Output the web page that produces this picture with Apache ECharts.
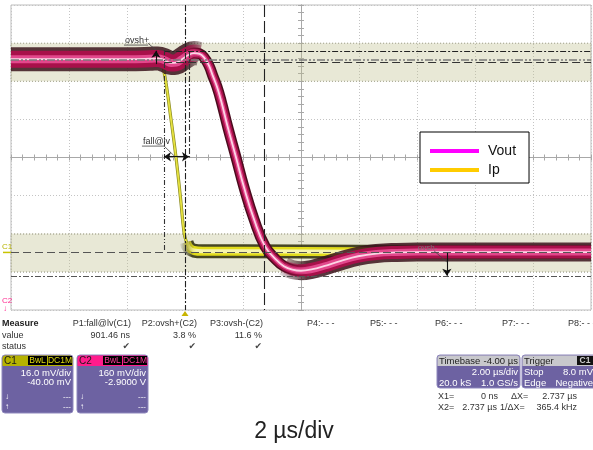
<!DOCTYPE html>
<html><head><meta charset="utf-8">
<script src="https://cdn.jsdelivr.net/npm/echarts@6/dist/echarts.min.js"></script>
<style>html,body{margin:0;padding:0;background:#fff}#c{width:593px;height:450px}</style>
</head><body><div id="c"></div>
<script>
// ---------- data (time in µs from trigger, amplitude in divisions) ----------
const voutT = [-6, -4, -2, -1.2, -0.93, -0.7, -0.48, -0.3, -0.14, 0.1, 0.31, 0.5, 0.66, 0.82, 0.97, 1.1, 1.24, 1.48, 1.76, 2.03, 2.38, 2.76, 3.14, 3.41, 3.7, 4.0, 4.4, 4.79, 5.38, 5.97, 6.6, 7.3, 8, 10, 12, 14];
const voutV = [2.58, 2.58, 2.58, 2.59, 2.6, 2.55, 2.48, 2.49, 2.56, 2.68, 2.74, 2.72, 2.62, 2.42, 2.12, 1.86, 1.50, 0.78, 0.0, -0.77, -1.62, -2.33, -2.68, -2.85, -2.94, -2.97, -2.93, -2.85, -2.71, -2.59, -2.52, -2.49, -2.48, -2.48, -2.48, -2.48];
const ipT = [-6, -2, -0.85, -0.72, -0.5, -0.31, -0.15, -0.03, 0.05, 0.14, 0.3, 0.6, 2, 6, 10, 14];
const ipV = [2.56, 2.56, 2.52, 2.24, 1.1, 0.0, -1.1, -1.98, -2.22, -2.36, -2.44, -2.46, -2.46, -2.47, -2.47, -2.47];
const bandRanges = [[2, 3], [-3, -2]];
const refLevels = [2.775, 2.576, 2.505, -2.487, -3.108];
const cursorTimes = [-0.724, 0, 0.138, 2.737];
const seriesNames = ['Vout', 'Ip'];
const measureHeads = ['P1:fall@lv(C1)', 'P2:ovsh+(C2)', 'P3:ovsh-(C2)'];
const measureVals = ['901.46 ns', '3.8 %', '11.6 %'];
const emptyParams = ['P4:- - -', 'P5:- - -', 'P6:- - -', 'P7:- - -', 'P8:- - -'];
const ch1Info = ['C1', '16.0 mV/div', '-40.00 mV'];
const ch2Info = ['C2', '160 mV/div', '-2.9000 V'];
const timebaseInfo = ['Timebase', '-4.00 µs', '2.00 µs/div', '20.0 kS', '1.0 GS/s'];
const triggerInfo = ['Trigger', 'C1', 'Stop', '8.0 mV', 'Edge', 'Negative'];
const cursorInfo = [['X1=', '0 ns', 'ΔX=', '2.737 µs'], ['X2=', '2.737 µs', '1/ΔX=', '365.4 kHz']];
const titleText = '2 µs/div';

// ---------- build ----------
const FONT = '"Liberation Sans", Arial, sans-serif';
const pts = (T, V, f) => T.map((t, i) => [t, V[i]]).filter(p => !f || f(p[0]));
const voutAll = pts(voutT, voutV);
const voutLeft = pts(voutT, voutV, t => t <= 0.5);
const voutRight = pts(voutT, voutV, t => t >= 3.41);
const ipAll = pts(ipT, ipV);
const ipFlat = pts(ipT, ipV, t => t >= 0.05);

// colour that fades out at one end of a segment
function fade(rgb, a, side, frac) {
  const c = `rgba(${rgb},${a})`, c0 = `rgba(${rgb},0)`;
  const stops = side === 'end'
    ? [{ offset: 0, color: c }, { offset: 1 - frac, color: c }, { offset: 1, color: c0 }]
    : [{ offset: 0, color: c0 }, { offset: frac, color: c }, { offset: 1, color: c }];
  return new echarts.graphic.LinearGradient(0, 0, 1, 0, stops);
}

function layer(name, data, width, color, z) {
  return { name, type: 'line', data, showSymbol: false, symbol: 'none', smooth: 0.45,
    lineStyle: { width, color, cap: 'butt', join: 'round' }, z, silent: true, animation: false,
    emphasis: { disabled: true } };
}

const dashDot = [6, 2, 2, 2], dashDotDot = [8, 2, 2, 2, 2, 2], dashed = [8, 4], longDash = [12, 4];
const hStyles = [
  { from: -0.72, type: dashDot, color: '#222', width: 1 },
  { from: -6, type: dashDotDot, color: '#7a7a7a', width: 1.5 },
  { from: -0.72, type: dashed, color: '#333', width: 1 },
  { from: -6, type: dashed, color: '#555', width: 1.2 },
  { from: -6, type: dashDot, color: '#555', width: 1.2 }
];
const vStyles = [
  { y0: 2.82, y1: -2.43, type: [5, 2, 1, 2, 1, 2], color: '#333' },
  { y0: 4, y1: -4, type: dashDot, color: '#222' },
  { y0: 2.77, y1: 0, type: dashDot, color: '#333' },
  { y0: 4, y1: -4, type: longDash, color: '#222' }
];
const mlData = [];
refLevels.forEach((v, i) => {
  const s = hStyles[i];
  mlData.push([{ coord: [s.from, v], symbol: 'none', lineStyle: { type: s.type, color: s.color, width: s.width } }, { coord: [14, v], symbol: 'none' }]);
});
cursorTimes.forEach((t, i) => {
  const s = vStyles[i];
  mlData.push([{ coord: [t, s.y0], symbol: 'none', lineStyle: { type: s.type, color: s.color, width: 1.1 } }, { coord: [t, s.y1], symbol: 'none' }]);
});
const solid = { type: 'solid', color: '#111', width: 1.1 };
mlData.push([{ coord: [cursorTimes[0], 0.02], symbol: 'arrow', lineStyle: solid }, { coord: [cursorTimes[2], 0.02], symbol: 'arrow' }]);
mlData.push([{ coord: [-1.0, 2.45], symbol: 'none', lineStyle: solid }, { coord: [-1.0, 2.8], symbol: 'arrow' }]);
mlData.push([{ coord: [9.03, -2.5], symbol: 'none', lineStyle: solid }, { coord: [9.03, -3.1], symbol: 'arrow' }]);
const leader = { type: 'solid', color: '#444', width: 0.8 };
mlData.push([{ coord: [-1.28, 3.0], symbol: 'none', lineStyle: leader }, { coord: [-1.0, 2.82], symbol: 'none' }]);
mlData.push([{ coord: [-0.72, 0.30], symbol: 'none', lineStyle: leader }, { coord: [-0.41, 0.07], symbol: 'none' }]);
mlData.push([{ coord: [8.59, -2.45], symbol: 'none', lineStyle: leader }, { coord: [9.03, -2.74], symbol: 'none' }]);

const DARK = '58,20,28', CRIM = '168,16,74', PINK = '226,72,140';
const series = [
  { name: 'bands', type: 'line', data: [[-6, 0]], showSymbol: false, lineStyle: { opacity: 0 }, z: 1, silent: true, animation: false,
    markArea: { silent: true, animation: false,
      itemStyle: { color: 'rgba(190,190,140,0.36)', borderColor: '#a9a990', borderWidth: 1, borderType: [1, 2] },
      data: bandRanges.map(r => [{ yAxis: r[0] }, { yAxis: r[1] }]) } },
  layer(seriesNames[1], ipAll, 3.2, '#8a8a20', 3),
  layer(seriesNames[1], ipAll, 1.8, '#e6e240', 3),
  layer(seriesNames[1], ipFlat, 14, fade('52,52,16', 0.9, 'start', 0.03), 3),
  layer(seriesNames[1], ipFlat, 9, fade('226,220,28', 1, 'start', 0.03), 3),
  layer(seriesNames[1], ipFlat, 4, fade('246,244,176', 1, 'start', 0.03), 3),
  layer(seriesNames[0], voutLeft, 24, fade(DARK, 0.85, 'end', 0.12), 4),
  layer(seriesNames[0], voutRight, 19, fade(DARK, 0.85, 'start', 0.1), 4),
  layer(seriesNames[0], voutAll, 11, '#4a0c1e', 4),
  layer(seriesNames[0], voutLeft, 17, fade(CRIM, 1, 'end', 0.12), 4),
  layer(seriesNames[0], voutRight, 13, fade(CRIM, 1, 'start', 0.1), 4),
  layer(seriesNames[0], voutAll, 8, '#a8104a', 4),
  layer(seriesNames[0], voutLeft, 8, fade(PINK, 1, 'end', 0.12), 4),
  layer(seriesNames[0], voutRight, 7, fade(PINK, 1, 'start', 0.1), 4),
  layer(seriesNames[0], voutAll, 4.5, '#e2488c', 4),
  layer(seriesNames[0], voutAll, 1.8, '#fcd6e6', 4),
  { name: 'cursors', type: 'line', data: [[-6, 0]], showSymbol: false, lineStyle: { opacity: 0 }, z: 6, silent: true, animation: false,
    markLine: { silent: true, animation: false, symbolSize: 7, label: { show: false }, emphasis: { disabled: true }, data: mlData } }
];

const tickAx = (inside) => ({ type: 'value', min: -6, max: 14, interval: 2, position: 'bottom', offset: -152.5,
  axisLine: { show: true, onZero: false, lineStyle: { color: '#a8a8a8', width: 1 } },
  axisTick: { show: true, inside, length: 3, lineStyle: { color: '#a8a8a8' } },
  minorTick: { show: true, splitNumber: 5, length: 3, lineStyle: { color: '#a8a8a8' } },
  axisLabel: { show: false }, splitLine: { show: false } });
const tickAy = (inside) => ({ type: 'value', min: -4, max: 4, interval: 1, position: 'left', offset: -290,
  axisLine: { show: true, onZero: false, lineStyle: { color: '#a8a8a8', width: 1 } },
  axisTick: { show: true, inside, length: 3, lineStyle: { color: '#a8a8a8' } },
  minorTick: { show: true, splitNumber: 5, length: 3, lineStyle: { color: '#a8a8a8' } },
  axisLabel: { show: false }, splitLine: { show: false } });

const option = {
  animation: false,
  backgroundColor: '#fff',
  grid: { left: 11, top: 5, width: 580, height: 305, show: true, borderColor: '#bdbdbd', borderWidth: 1, backgroundColor: '#fff' },
  xAxis: [
    { type: 'value', min: -6, max: 14, interval: 2, axisLine: { show: false, onZero: false }, axisTick: { show: false }, axisLabel: { show: false },
      splitLine: { show: true, lineStyle: { color: '#c4c4c4', type: [1, 2] } } },
    tickAx(true), tickAx(false)
  ],
  yAxis: [
    { type: 'value', min: -4, max: 4, interval: 1, axisLine: { show: false, onZero: false }, axisTick: { show: false }, axisLabel: { show: false },
      splitLine: { show: true, lineStyle: { color: '#c4c4c4', type: [1, 2] } } },
    tickAy(true), tickAy(false)
  ],
  legend: { data: [{ name: seriesNames[0], itemStyle: { color: '#ff00ff' } }, { name: seriesNames[1], itemStyle: { color: '#ffcc00' } }],
    orient: 'vertical', left: 420, top: 132, icon: 'rect', itemWidth: 49, itemHeight: 4, itemGap: 5,
    padding: [12, 13, 6, 10], backgroundColor: '#fff', borderColor: '#000', borderWidth: 1, selectedMode: false, z: 10,
    textStyle: { fontSize: 14, color: '#111', fontFamily: FONT, padding: [0, 0, 0, 4] } },
  series
};

const chart = echarts.init(document.getElementById('c'));
chart.setOption(option);

// ---------- annotations & panels ----------
const P = (t, v) => chart.convertToPixel({ xAxisIndex: 0, yAxisIndex: 0 }, [t, v]);
const g = [];
const txt = (x, y, s, o = {}) => g.push({ type: 'text', x, y, silent: true, z: 20,
  style: { text: s, fill: o.fill || '#333', font: (o.bold ? 'bold ' : '') + (o.size || 9) + 'px ' + (o.family || FONT),
    textAlign: o.align || 'left', textVerticalAlign: 'middle' } });
const rect = (x, y, w, h, fill, o = {}) => g.push({ type: 'rect', silent: true, z: o.z || 18,
  shape: { x, y, width: w, height: h, r: o.r || 0 }, style: { fill, stroke: o.stroke || null, lineWidth: o.stroke ? 1 : 0 } });
const line = (x1, y1, x2, y2, stroke, w) => g.push({ type: 'line', silent: true, z: 20, shape: { x1, y1, x2, y2 }, style: { stroke, lineWidth: w || 0.8 } });

let p = P(-2.07, 3.08); txt(p[0], p[1], 'ovsh+', { fill: '#333', size: 9 });
line(p[0] - 1, p[1] + 5, p[0] + 23, p[1] + 5, '#444');
p = P(-1.45, 0.43); txt(p[0], p[1], 'fall@lv', { fill: '#333', size: 9 });
line(p[0] - 1, p[1] + 5, p[0] + 22, p[1] + 5, '#444');
p = P(8.03, -2.37); txt(p[0], p[1], 'ovsh-', { fill: '#777', size: 8 });
p = P(-6, -2.49);
txt(2, p[1] - 6, 'C1', { fill: '#b8b400', size: 8 });
line(3, p[1], 11, p[1], '#c8c400', 1.5);
p = P(-6, -3.95);
txt(2, p[1] - 7, 'C2', { fill: '#ff2a90', size: 8 });
txt(3, p[1] + 1, '↓', { fill: '#ff2a90', size: 8 });
p = P(0, -4);
g.push({ type: 'polygon', silent: true, z: 20, shape: { points: [[p[0] - 3.5, p[1] + 6], [p[0] + 3.5, p[1] + 6], [p[0], p[1] + 1]] }, style: { fill: '#c8b400' } });

txt(2, 324, 'Measure', { bold: true, fill: '#222' });
txt(2, 335.5, 'value', { fill: '#333' });
txt(2, 347, 'status', { fill: '#333' });
const colR = [131, 197, 263];
measureHeads.forEach((s, i) => txt(colR[i], 324, s, { align: 'right' }));
measureVals.forEach((s, i) => txt(colR[i] - 1, 335.5, s, { align: 'right' }));
colR.forEach(x => txt(x - 1, 347, '✔', { align: 'right', family: '"DejaVu Sans"', size: 9, fill: '#444' }));
const emptyX = [307, 370, 435, 502, 568];
emptyParams.forEach((s, i) => txt(emptyX[i], 324, s));

const PURPLE = '#6d62a2', PBORDER = '#8f88bd';
function chPanel(x, info, head, tagText) {
  rect(x, 355, 71, 58, PURPLE, { r: 3, stroke: PBORDER });
  rect(x + 0.5, 355.5, 70, 10.5, head, { r: [3, 3, 0, 0], z: 19 });
  txt(x + 2, 361, info[0], { fill: '#1a1a1a', size: 10 });
  rect(x + 26, 356, 19, 9, '#000', { z: 19 });
  rect(x + 46, 356, 24, 9, '#000', { z: 19 });
  txt(x + 35.5, 361, 'BwL', { fill: tagText, size: 8.5, align: 'center' });
  txt(x + 58, 361, 'DC1M', { fill: tagText, size: 8.5, align: 'center' });
  txt(x + 69, 373, info[1], { fill: '#fff', size: 9.5, align: 'right' });
  txt(x + 69, 382.5, info[2], { fill: '#fff', size: 9.5, align: 'right' });
  txt(x + 3, 397, '↓', { fill: '#fff', size: 8 });
  txt(x + 3, 407, '↑', { fill: '#fff', size: 8 });
  txt(x + 69, 397, '---', { fill: '#fff', size: 8, align: 'right' });
  txt(x + 69, 407, '---', { fill: '#fff', size: 8, align: 'right' });
}
chPanel(2, ch1Info, '#b6b200', '#e0dc10');
chPanel(77, ch2Info, '#ff1c8c', '#ff3a9a');

rect(437, 355, 83, 33, PURPLE, { r: 3, stroke: PBORDER });
rect(437.5, 355.5, 82, 10.5, '#c8c8cc', { r: [3, 3, 0, 0], z: 19 });
txt(439, 361, timebaseInfo[0], { fill: '#222', size: 9.5 });
txt(518, 361, timebaseInfo[1], { fill: '#222', size: 9.5, align: 'right' });
txt(518, 372.5, timebaseInfo[2], { fill: '#fff', size: 9.5, align: 'right' });
txt(439, 383.5, timebaseInfo[3], { fill: '#fff', size: 9.5 });
txt(518, 383.5, timebaseInfo[4], { fill: '#fff', size: 9.5, align: 'right' });
rect(522, 355, 76, 33, PURPLE, { r: 3, stroke: PBORDER });
rect(522.5, 355.5, 75, 10.5, '#c8c8cc', { r: [3, 3, 0, 0], z: 19 });
txt(524, 361, triggerInfo[0], { fill: '#222', size: 9.5 });
rect(577, 356, 16, 9, '#111', { z: 19 });
txt(585, 361, triggerInfo[1], { fill: '#ccc', size: 8.5, align: 'center', bold: true });
txt(524, 372.5, triggerInfo[2], { fill: '#fff', size: 9.5 });
txt(593, 372.5, triggerInfo[3], { fill: '#fff', size: 9.5, align: 'right' });
txt(524, 383.5, triggerInfo[4], { fill: '#fff', size: 9.5 });
txt(593, 383.5, triggerInfo[5], { fill: '#fff', size: 9.5, align: 'right' });

const cy = [397, 408];
txt(438, cy[0], cursorInfo[0][0], { size: 9 });
txt(498, cy[0], cursorInfo[0][1], { size: 9, align: 'right' });
txt(511, cy[0], cursorInfo[0][2], { size: 9 });
txt(577, cy[0], cursorInfo[0][3], { size: 9, align: 'right' });
txt(438, cy[1], cursorInfo[1][0], { size: 9 });
txt(497, cy[1], cursorInfo[1][1], { size: 9, align: 'right' });
txt(500, cy[1], cursorInfo[1][2], { size: 9 });
txt(577, cy[1], cursorInfo[1][3], { size: 9, align: 'right' });

txt(294, 432, titleText, { size: 23, fill: '#222', align: 'center' });

chart.setOption({ graphic: g });
</script></body></html>
